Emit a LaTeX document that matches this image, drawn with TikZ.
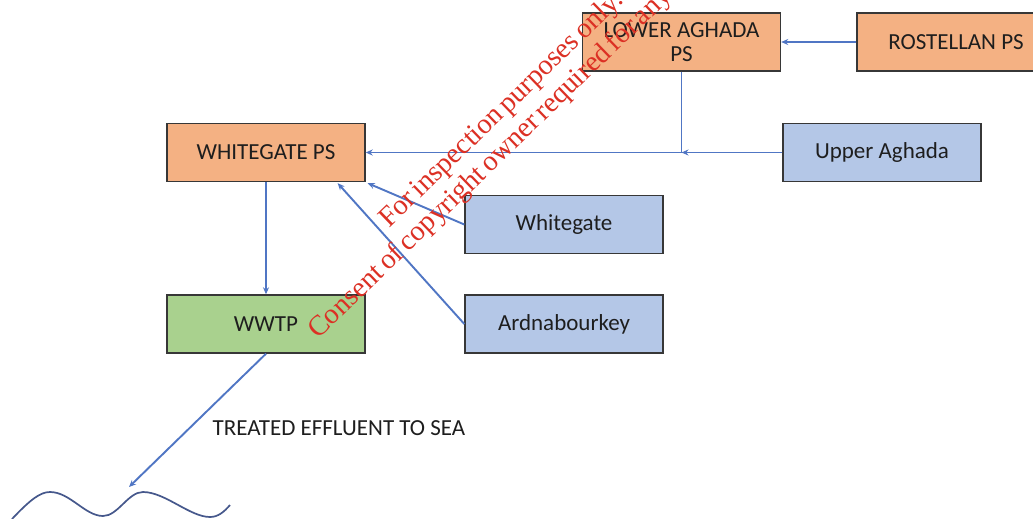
\documentclass[tikz,border=0pt]{standalone}
\usepackage{fontspec}
\setmainfont{Carlito}
\newfontfamily\wmfont[WordSpace=0.6]{Liberation Serif}
\usetikzlibrary{arrows.meta}
\definecolor{orf}{RGB}{244,177,131}
\definecolor{blf}{RGB}{180,199,231}
\definecolor{grf}{RGB}{169,209,142}
\definecolor{bord}{RGB}{55,55,55}
\definecolor{arr}{RGB}{80,118,196}
\definecolor{txt}{RGB}{30,30,30}
\definecolor{wm}{RGB}{220,48,36}
\definecolor{wave}{RGB}{70,88,140}
\begin{document}
\begin{tikzpicture}[x=1pt,y=-1pt,
 box/.style={draw=bord, line width=1.4pt, minimum width=198pt, minimum height=58pt, inner sep=0pt, font=\fontsize{23}{24}\selectfont, text=txt, align=center},
 conn/.style={draw=arr, line width=1.9pt, -{Stealth[length=7pt,width=6pt]}},
 lbl/.style={font=\fontsize{23}{24}\selectfont, text=txt, inner sep=0pt},
 wmtext/.style={font=\wmfont\fontsize{28.5}{30}\selectfont, text=wm, inner sep=0pt, anchor=base west, rotate=44},
]
\useasboundingbox (0,0) rectangle (1033,519);
\clip (0,0) rectangle (1033,519);
\fill[white] (0,0) rectangle (1033,519);
\node[box, fill=orf] (la) at (681.5,42) {LOWER AGHADA\\PS};
\node[box, fill=orf] (rp) at (956,42) {ROSTELLAN PS};
\node[box, fill=orf] (wps) at (266,152.5) {WHITEGATE PS};
\node[box, fill=blf] (ua) at (882,152.5) {Upper Aghada};
\node[box, fill=blf] (wg) at (564,224.5) {Whitegate};
\node[box, fill=blf] (ard) at (564,324) {Ardnabourkey};
\node[box, fill=grf] (wwtp) at (266,324) {WWTP};
\node[lbl] (eff) at (339,428) {TREATED EFFLUENT TO SEA};
\coordinate (j) at (la.south |- ua.west);
\coordinate (sea) at (129,487);
\draw[conn] (rp.west) -- (la.east);
\draw[conn] (la.south) -- (j) -- (wps.east);
\draw[conn] (ua.west) -- (j);
\draw[conn] (wg.west) -- ([xshift=2pt,yshift=-1pt]wps.south east);
\draw[conn] (ard.west) -- ([xshift=-28pt,yshift=-1pt]wps.south east);
\draw[conn] (wps.south) -- (wwtp.north);
\draw[conn] (wwtp.south) -- (sea);
\draw[draw=wave, line width=1.7pt] (12,519) .. controls (30,500) and (40,492) .. (50,492)
  .. controls (70,492) and (85,516) .. (103,516)
  .. controls (118,516) and (128,492) .. (143,492)
  .. controls (165,492) and (190,517) .. (210,517)
  .. controls (218,517) and (224,512) .. (230,505);
\node[wmtext] (wm1) at (389,229) {For inspection purposes only.};
\node[wmtext] (wm2) at (318,340) {Consent of copyright owner required for any};
\end{tikzpicture}
\end{document}
